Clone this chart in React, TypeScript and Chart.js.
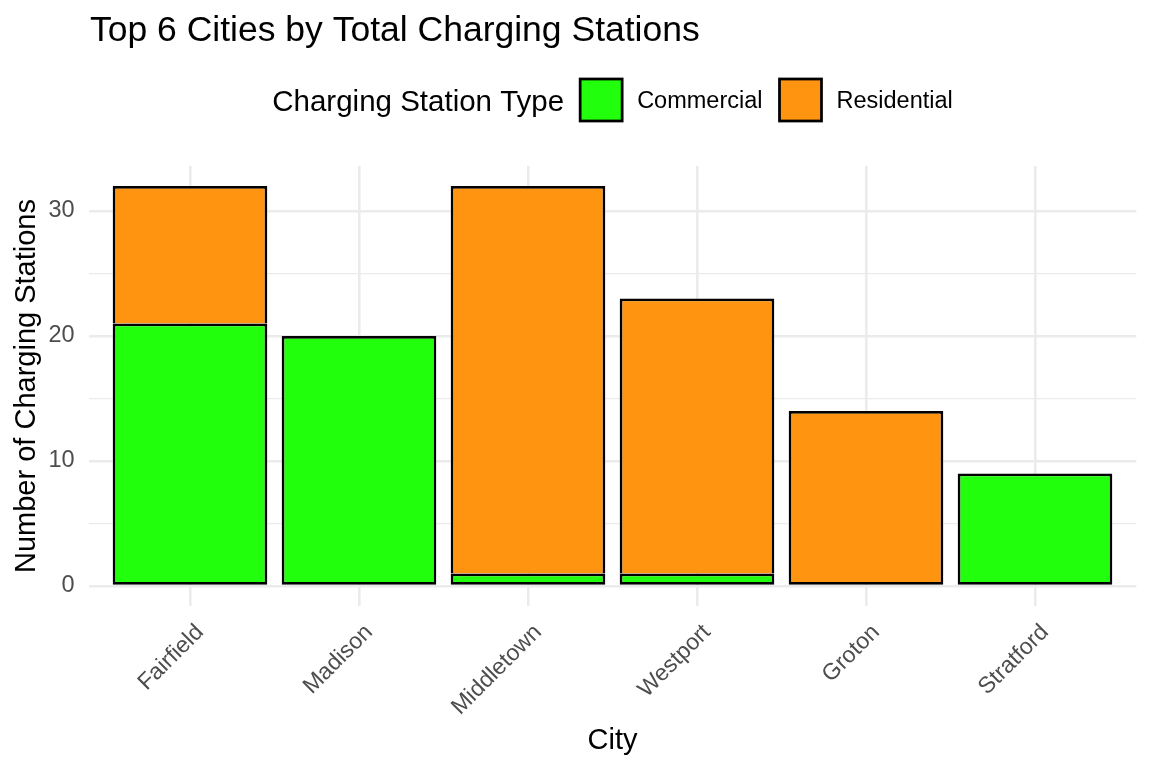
import React, { useEffect, useRef } from 'react';
import { Chart, registerables } from 'chart.js';

Chart.register(...registerables);

// ---- data ----
const cities = ['Fairfield', 'Madison', 'Middletown', 'Westport', 'Groton', 'Stratford'];
const commercial = [21, 20, 1, 1, 0, 9];
const residential = [11, 0, 31, 22, 14, 0];
const seriesNames = ['Commercial', 'Residential'];
const seriesColors = ['#22FF0C', '#FF9410'];
const yTickValues = [0, 5, 10, 15, 20, 25, 30];
const chartTitle = 'Top 6 Cities by Total Charging Stations';
const legendTitle = 'Charging Station Type';
const xAxisTitle = 'City';
const yAxisTitle = 'Number of Charging Stations';

const FONT = '"Liberation Sans", Arial, Helvetica, sans-serif';
const GRID = '#EBEBEB';
const TICK_COLOR = '#4D4D4D';
const BORDER = 2.75;

const headerPlugin = {
  id: 'ggHeader',
  afterDraw(chart: any) {
    const ctx = chart.ctx as CanvasRenderingContext2D;
    const area = chart.chartArea;
    ctx.save();
    ctx.fillStyle = '#000000';
    ctx.textAlign = 'left';
    ctx.textBaseline = 'alphabetic';
    ctx.font = `35.5px ${FONT}`;
    ctx.fillText(chartTitle, 90, 41);

    // legend
    const keySize = 42;
    const gapTitle = 16;
    const gapLabel = 15;
    const gapItem = 17;
    ctx.font = `29.5px ${FONT}`;
    const titleW = ctx.measureText(legendTitle).width;
    ctx.font = `23.5px ${FONT}`;
    const items = chart.data.datasets.map((ds: any) => ({
      label: ds.label,
      color: ds.backgroundColor,
      w: ctx.measureText(ds.label).width,
    }));
    let total = titleW;
    items.forEach((it: any, i: number) => {
      total += (i === 0 ? gapTitle : gapItem) + keySize + gapLabel + it.w;
    });
    const cx = (area.left + area.right) / 2;
    let x = cx - total / 2;
    const cy = 100;
    ctx.font = `29.5px ${FONT}`;
    ctx.fillText(legendTitle, x, cy + 10.5);
    x += titleW;
    items.forEach((it: any, i: number) => {
      x += i === 0 ? gapTitle : gapItem;
      ctx.fillStyle = it.color;
      ctx.fillRect(x, cy - keySize / 2, keySize, keySize);
      ctx.strokeStyle = '#000000';
      ctx.lineWidth = BORDER;
      ctx.strokeRect(x, cy - keySize / 2, keySize, keySize);
      x += keySize + gapLabel;
      ctx.fillStyle = '#000000';
      ctx.font = `23.5px ${FONT}`;
      ctx.fillText(it.label, x, cy + 8);
      x += it.w;
    });
    ctx.restore();
  },
};

export default function App() {
  const canvasRef = useRef<HTMLCanvasElement | null>(null);

  useEffect(() => {
    if (!canvasRef.current) return;
    const series = [commercial, residential];
    const chart = new Chart(canvasRef.current, {
      type: 'bar',
      data: {
        datasets: series.map((vals, si) => ({
          label: seriesNames[si],
          data: vals.map((v, i) => ({ x: i, y: v })),
          backgroundColor: seriesColors[si],
          borderColor: '#000000',
          borderWidth: (c: any) => {
            const i = c.dataIndex;
            const onBase = c.datasetIndex === 0 || commercial[i] === 0;
            return { top: BORDER, bottom: onBase ? BORDER : 0, left: BORDER, right: BORDER };
          },
          borderSkipped: false,
          barPercentage: 0.915,
          categoryPercentage: 1,
        })),
      },
      options: {
        responsive: false,
        animation: false,
        devicePixelRatio: 1,
        layout: { padding: { left: 0, right: 15.6, top: 166, bottom: 0 } },
        plugins: {
          legend: { display: false },
          title: { display: false },
          tooltip: { enabled: false },
        },
        scales: {
          x: {
            type: 'linear',
            stacked: true,
            offset: false,
            min: -0.6,
            max: 5.6,
            afterBuildTicks: (scale: any) => {
              scale.ticks = cities.map((_, i) => ({ value: i }));
            },
            afterFit: (scale: any) => {
              scale.height = 162;
            },
            grid: { color: GRID, lineWidth: 2.6, drawTicks: false, offset: false },
            border: { display: false },
            ticks: {
              autoSkip: false,
              minRotation: 45,
              maxRotation: 45,
              padding: 13,
              labelOffset: 10,
              color: TICK_COLOR,
              font: { family: FONT, size: 23 },
              callback: (v: any) => cities[v as number] ?? '',
            },
            title: {
              display: true,
              text: xAxisTitle,
              color: '#000000',
              font: { family: FONT, size: 29, lineHeight: 1 },
              padding: { top: 0, bottom: 12.5 },
            },
          },
          y: {
            stacked: true,
            min: -1.6,
            max: 33.6,
            afterBuildTicks: (scale: any) => {
              scale.ticks = yTickValues.map((v) => ({ value: v }));
            },
            afterFit: (scale: any) => {
              scale.width = 88.6;
            },
            grid: {
              color: GRID,
              lineWidth: (c: any) => (c.tick && c.tick.value % 10 === 0 ? 2.6 : 1.3),
              drawTicks: false,
            },
            border: { display: false },
            ticks: {
              padding: 14,
              color: TICK_COLOR,
              font: { family: FONT, size: 23.5 },
              callback: (v: any) => (Number(v) % 10 === 0 ? String(v) : ''),
            },
            title: {
              display: true,
              text: yAxisTitle,
              color: '#000000',
              font: { family: FONT, size: 29, lineHeight: 1 },
              padding: { top: 12.5, bottom: 0 },
            },
          },
        },
      },
      plugins: [headerPlugin],
    } as any);
    return () => chart.destroy();
  }, []);

  return (
    <div style={{ position: 'absolute', left: 0, top: 0, width: 1152, height: 768, background: '#ffffff' }}>
      <canvas ref={canvasRef} width={1152} height={768} style={{ width: 1152, height: 768 }} />
    </div>
  );
}
